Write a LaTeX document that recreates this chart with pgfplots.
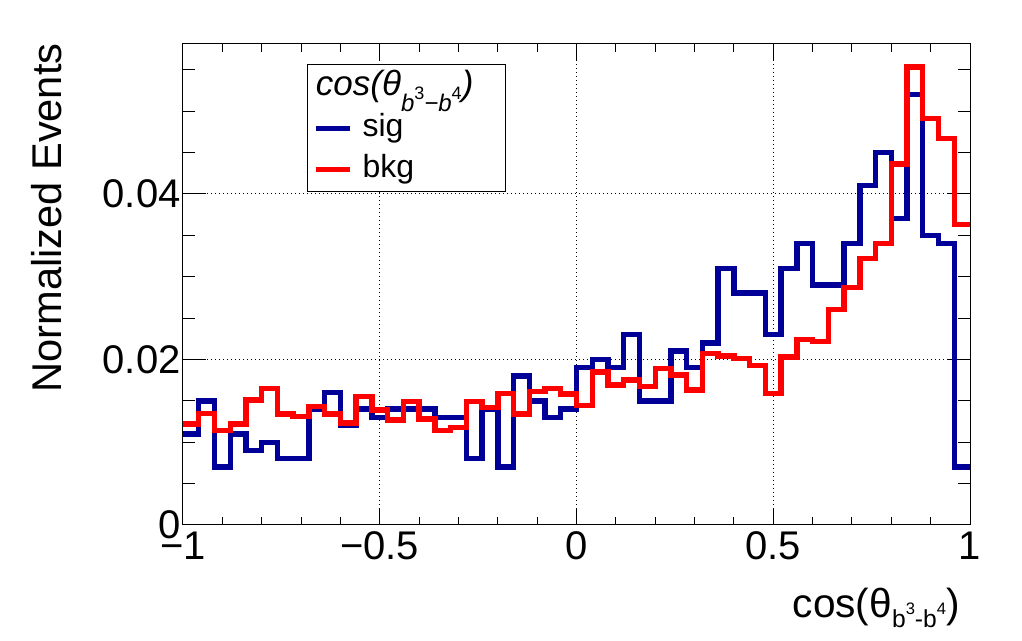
\documentclass[border=0pt]{standalone}
\usepackage{fontspec}
\setmainfont{Liberation Sans}
\usepackage{pgfplots}
\usepackage{pgfplotstable}
\pgfplotsset{compat=1.18}
\definecolor{sigblue}{RGB}{0,0,153}
\definecolor{bkgred}{RGB}{255,0,0}
\newcommand\tickf{\fontsize{20}{24}\selectfont}
\newcommand\titf{\fontsize{20.8}{24}\selectfont}

\pgfplotstableread{
x sig bkg
-1.00 0.011 0.0122
-0.96 0.015 0.0135
-0.92 0.007 0.0114
-0.88 0.011 0.0122
-0.84 0.009 0.0151
-0.80 0.010 0.0165
-0.76 0.008 0.0134
-0.72 0.008 0.0131
-0.68 0.014 0.0143
-0.64 0.016 0.0134
-0.60 0.012 0.0123
-0.56 0.014 0.0155
-0.52 0.013 0.0139
-0.48 0.014 0.0127
-0.44 0.014 0.0149
-0.40 0.014 0.0128
-0.36 0.013 0.0114
-0.32 0.013 0.0118
-0.28 0.008 0.0149
-0.24 0.014 0.0142
-0.20 0.007 0.0159
-0.16 0.018 0.0134
-0.12 0.015 0.0161
-0.08 0.013 0.0165
-0.04 0.014 0.0158
0.00 0.019 0.0144
0.04 0.020 0.0185
0.08 0.019 0.0169
0.12 0.023 0.0175
0.16 0.015 0.0167
0.20 0.015 0.0189
0.24 0.021 0.0181
0.28 0.019 0.0163
0.32 0.022 0.0207
0.36 0.031 0.0204
0.40 0.028 0.0201
0.44 0.028 0.0193
0.48 0.023 0.0159
0.52 0.031 0.0203
0.56 0.034 0.0224
0.60 0.029 0.0222
0.64 0.029 0.0260
0.68 0.034 0.0287
0.72 0.041 0.0322
0.76 0.045 0.0340
0.80 0.037 0.0436
0.84 0.052 0.0553
0.88 0.035 0.0491
0.92 0.034 0.0467
0.96 0.007 0.0363
1.00 0.007 0.0363
}\histdata

\begin{document}
\begin{tikzpicture}
% y ticks and horizontal grid
\begin{axis}[
  scale only axis, width=393.5pt, height=240.5pt,
  xmin=-1, xmax=1, ymin=0, ymax=0.0581,
  scaled y ticks=false, scaled x ticks=false,
  xtick=\empty,
  ytick={0,0.02,0.04}, yticklabels={},
  minor ytick={0.005,0.01,0.015,0.025,0.03,0.035,0.045,0.05,0.055},
  tick align=inside, major tick length=11.5pt, minor tick length=6pt,
  tick style={black, line width=0.5pt},
  ymajorgrids,
  major grid style={black, line width=0.5pt, dash pattern=on 0.6pt off 1.4pt},
  axis line style={draw=none},
]
\end{axis}
% main axis
\begin{axis}[
  scale only axis, width=393.5pt, height=240.5pt,
  xmin=-1, xmax=1, ymin=0, ymax=0.0581,
  scaled y ticks=false, scaled x ticks=false,
  xtick={-1,-0.5,0,0.5,1}, xticklabels={−1,−0.5,0,0.5,1},
  minor x tick num=4,
  ytick={0,0.02,0.04}, yticklabels={0,0.02,0.04},
  tick align=inside, major tick length=8pt, minor tick length=4pt,
  tick style={black, line width=0.5pt},
  ytick style={draw=none},
  xmajorgrids,
  major grid style={black, line width=0.5pt, dash pattern=on 0.6pt off 1.4pt},
  axis line style={black, line width=0.5pt},
  xticklabel style={font=\tickf, inner sep=0pt, yshift=-3.3pt},
  yticklabel style={font=\tickf, inner sep=0pt, xshift=-1pt},
  xlabel={cos(θ\raisebox{-5pt}{\fontsize{12.3}{12.3}\selectfont b\raisebox{6.5pt}{\fontsize{8.3}{8.3}\selectfont 3}-b\raisebox{6.5pt}{\fontsize{8.3}{8.3}\selectfont 4}})},
  xlabel style={at={(rel axis cs:0.9873,-0.1913)}, anchor=base east, inner sep=0pt, font=\fontsize{20.3}{24}\selectfont},
  ylabel={Normalized Events},
  ylabel style={at={(rel axis cs:-0.1931,1.002)}, anchor=north east, inner sep=0pt, font=\titf},
  legend style={at={(rel axis cs:0.1572,0.9578)}, anchor=north west,
    draw=black, line width=0.5pt, fill=white,
    inner xsep=3.15pt, inner ysep=1pt, row sep=0pt, column sep=4.85pt,
    font=\fontsize{16}{19}\selectfont,
    nodes={inner xsep=0pt, inner ysep=1pt, text height=13.5pt, text depth=5pt}},
  legend cell align=left,
  legend image code/.code={\draw[#1, line width=2.7pt] (0pt,0pt) -- (17pt,0pt);},
]
\addlegendimage{empty legend}
\addlegendentry{\makebox[68.2pt][l]{\hspace*{-23.35pt}\fontsize{17.5}{19}\selectfont\itshape cos(θ\raisebox{-7.8pt}{\fontsize{12}{12}\selectfont b\raisebox{5.7pt}{\upshape\fontsize{9}{9}\selectfont 3}−b\raisebox{5.7pt}{\upshape\fontsize{9}{9}\selectfont 4}})}}
\addplot[const plot, sigblue, line width=2.7pt] table[x=x, y=sig] {\histdata};
\addlegendentry{sig}
\addplot[const plot, bkgred, line width=2.7pt] table[x=x, y=bkg] {\histdata};
\addlegendentry{bkg}
\coordinate (BL) at (rel axis cs:-0.23253,-0.24116);
\coordinate (TR) at (rel axis cs:1.06607,1.09148);
\end{axis}
\pgfresetboundingbox
\path[use as bounding box] (BL) rectangle (TR);
\end{tikzpicture}
\end{document}
